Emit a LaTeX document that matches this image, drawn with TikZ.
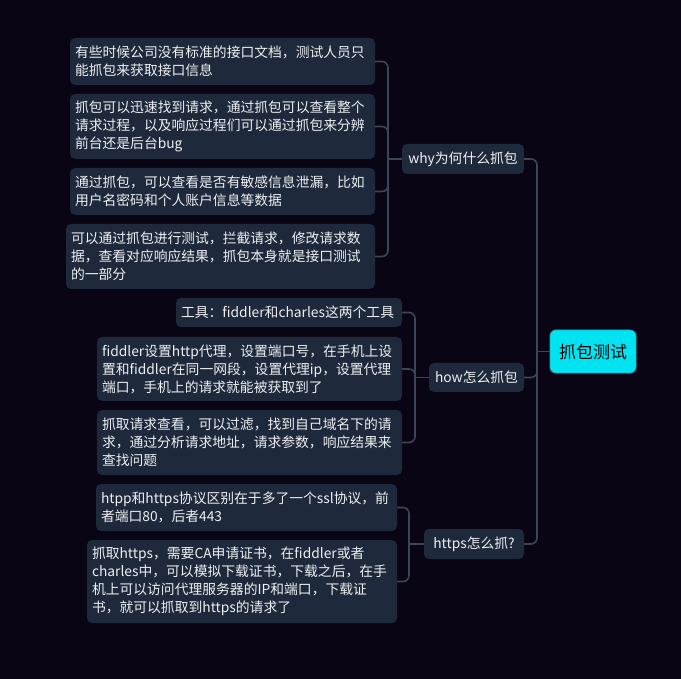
\documentclass[tikz,border=0pt]{standalone}
\usepackage{fontspec}
\setmainfont{Noto Sans CJK SC}
\definecolor{bg}{HTML}{0A0515}
\definecolor{boxc}{HTML}{1E293B}
\definecolor{linec}{HTML}{3B4658}
\definecolor{txt}{HTML}{EEF0F3}
\definecolor{rootc}{HTML}{00E4F2}
\definecolor{rootb}{HTML}{1AB0C0}
\begin{document}
\begin{tikzpicture}[x=1pt,y=-1pt,
  leaf/.style={fill=boxc, rounded corners=5pt, text=txt, inner xsep=5pt, inner ysep=0pt,
    font=\fontsize{13.8}{18}\selectfont, align=left},
  mid/.style={fill=boxc, rounded corners=5pt, text=txt, inner sep=0pt,
    font=\fontsize{13.8}{18}\selectfont, align=center},
  rootbox/.style={fill=rootc, draw=rootb, line width=0.8pt, rounded corners=6pt, text=black, inner sep=0pt,
    font=\fontsize{17}{20}\selectfont},
  conn/.style={draw=linec, line width=1.6pt, rounded corners=6pt}]
\useasboundingbox (0,0) rectangle (681,679);
\fill[bg] (0,0) rectangle (681,679);

% root and second level
\node[rootbox, minimum width=86pt, minimum height=43pt] (root) at (593,351.5) {抓包测试};
\node[mid, minimum width=122pt, minimum height=30pt] (why) at (463,159) {why为何什么抓包};
\node[mid, minimum width=95pt, minimum height=29pt] (how) at (476.5,377.5) {how怎么抓包};
\node[mid, minimum width=100pt, minimum height=30pt] (https) at (474,544) {https怎么抓?};

% why leaves
\node[leaf, minimum width=305pt, minimum height=47pt, text width=295pt] (w1) at (222.5,61.5)
  {有些时候公司没有标准的接口文档，测试人员只\\能抓包来获取接口信息};
\node[leaf, minimum width=305pt, minimum height=65pt, text width=295pt] (w2) at (222.5,126.5)
  {抓包可以迅速找到请求，通过抓包可以查看整个\\请求过程，以及响应过程们可以通过抓包来分辨\\前台还是后台bug};
\node[leaf, minimum width=305pt, minimum height=47pt, text width=295pt] (w3) at (222.5,191.5)
  {通过抓包，可以查看是否有敏感信息泄漏，比如\\用户名密码和个人账户信息等数据};
\node[leaf, minimum width=309pt, minimum height=65pt, text width=299pt] (w4) at (220.5,256.5)
  {可以通过抓包进行测试，拦截请求，修改请求数\\据，查看对应响应结果，抓包本身就是接口测试\\的一部分};

% how leaves
\node[leaf, minimum width=226pt, minimum height=29pt, text width=216pt] (h1) at (289,312.5)
  {工具：fiddler和charles这两个工具};
\node[leaf, minimum width=305pt, minimum height=64pt, text width=295pt] (h2) at (249.5,369)
  {fiddler设置http代理，设置端口号，在手机上设\\置和fiddler在同一网段，设置代理ip，设置代理\\端口，手机上的请求就能被获取到了};
\node[leaf, minimum width=305pt, minimum height=65pt, text width=295pt] (h3) at (249.5,442.5)
  {抓取请求查看，可以过滤，找到自己域名下的请\\求，通过分析请求地址，请求参数，响应结果来\\查找问题};

% https leaves
\node[leaf, minimum width=301pt, minimum height=47pt, text width=291pt] (s1) at (246.5,507.5)
  {htpp和https协议区别在于多了一个ssl协议，前\\者端口80，后者443};
\node[leaf, minimum width=310pt, minimum height=83pt, text width=300pt] (s2) at (242,581.5)
  {抓取https，需要CA申请证书，在fiddler或者\\charles中，可以模拟下载证书，下载之后，在手\\机上可以访问代理服务器的IP和端口，下载证\\书，就可以抓取到https的请求了};

% junctions
\coordinate (jr) at (537,351.5);
\coordinate (jw) at (388,159);
\coordinate (jh) at (415,377.5);
\coordinate (js) at (409,544);

% connectors
\foreach \n in {why,how,https} \draw[conn] (\n.east) -| (jr);
\draw[conn] (jr) -- (root.west);
\foreach \n in {w1,w2,w3,w4} \draw[conn] (\n.east) -| (jw);
\draw[conn] (jw) -- (why.west);
\foreach \n in {h1,h2,h3} \draw[conn] (\n.east) -| (jh);
\draw[conn] (jh) -- (how.west);
\foreach \n in {s1,s2} \draw[conn] (\n.east) -| (js);
\draw[conn] (js) -- (https.west);
\end{tikzpicture}
\end{document}
